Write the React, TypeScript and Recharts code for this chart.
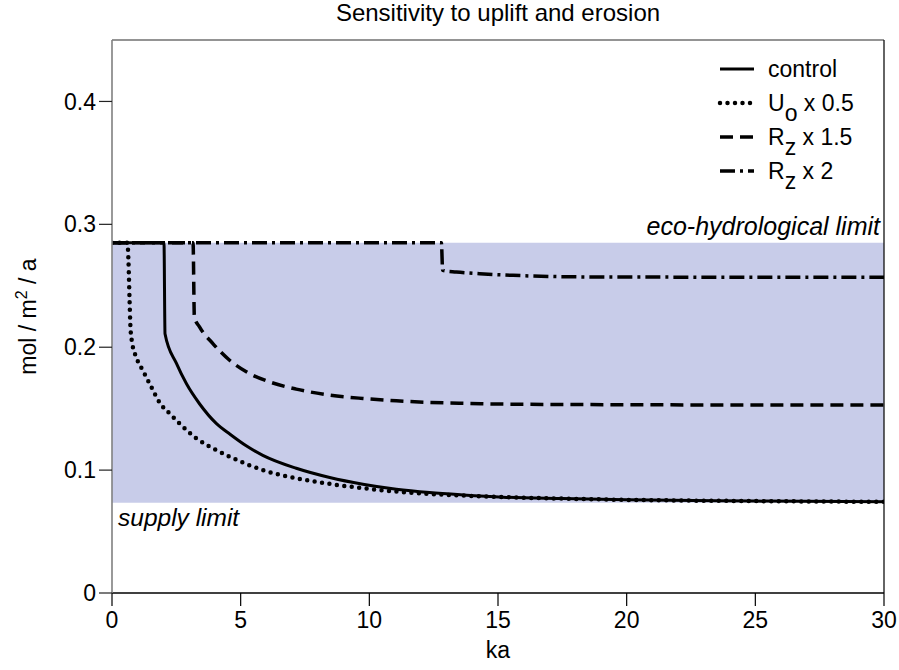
import React from 'react';
import { LineChart, Line, XAxis, YAxis, ReferenceArea, ReferenceLine, Legend } from 'recharts';

const FONT = '"Liberation Sans", Arial, Helvetica, sans-serif';

const TITLE = 'Sensitivity to uplift and erosion';
const X_LABEL = 'ka';
const X_TICKS = [0, 5, 10, 15, 20, 25, 30];
const Y_TICKS = [0, 0.1, 0.2, 0.3, 0.4];
const X_DOMAIN = [0, 30];
const Y_DOMAIN = [0, 0.45];
const ECO_LIMIT = 0.285;
const SUPPLY_LIMIT = 0.0735;
const ECO_TEXT = 'eco-hydrological limit';
const SUPPLY_TEXT = 'supply limit';

// control (solid)
const controlX = [0, 2.02, 2.06, 2.5, 2.9, 3.4, 4.05, 4.6, 5.2, 5.86, 7.16, 8.46, 9.75, 11.05, 12.34, 13.64, 15.2, 17.5, 20, 25, 30];
const controlY = [0.285, 0.285, 0.211, 0.187, 0.17, 0.154, 0.138, 0.129, 0.12, 0.112, 0.1015, 0.094, 0.0885, 0.0844, 0.0817, 0.0798, 0.078, 0.0768, 0.0758, 0.0748, 0.0742];

// Uo x 0.5 (dotted)
const uoX = [0, 0.6, 0.64, 0.68, 0.72, 0.78, 0.94, 1.2, 1.52, 1.85, 2.24, 2.62, 3.27, 4.05, 4.57, 5.86, 7.16, 8.46, 9.75, 11.05, 12.34, 13.64, 15.2, 17.5, 20, 25, 30];
const uoY = [0.285, 0.285, 0.27, 0.24, 0.215, 0.204, 0.192, 0.181, 0.168, 0.155, 0.146, 0.138, 0.126, 0.1164, 0.111, 0.1, 0.0934, 0.0888, 0.0853, 0.0825, 0.0806, 0.0793, 0.078, 0.0768, 0.0758, 0.0748, 0.0742];

// Rz x 1.5 (dashed)
const rz15X = [0, 3.15, 3.2, 3.4, 3.92, 4.57, 5.22, 6.12, 7.16, 8.46, 9.75, 11.05, 12.34, 13.9, 15.2, 20, 25, 30];
const rz15Y = [0.285, 0.285, 0.2246, 0.2165, 0.203, 0.1894, 0.18, 0.1718, 0.1659, 0.161, 0.1583, 0.1564, 0.1551, 0.1543, 0.1537, 0.1532, 0.153, 0.1529];

// Rz x 2 (dash-dot)
const rz2X = [0, 12.8, 12.85, 13.38, 14.29, 15.58, 17.9, 20, 25, 30];
const rz2Y = [0.285, 0.285, 0.2625, 0.2612, 0.2598, 0.2585, 0.2573, 0.2571, 0.257, 0.257];

const toPoints = (xs: number[], ys: number[]) => xs.map((x, i) => ({ x, y: ys[i] }));

const controlData = toPoints(controlX, controlY);
const uoData = toPoints(uoX, uoY);
const rz15Data = toPoints(rz15X, rz15Y);
const rz2Data = toPoints(rz2X, rz2Y);

const DOTTED = '0 7.5';
const DASHED = '13 7';
const DASHDOT = '15 5 3 5';

const FS = 23;

const LegendBox = () => {
  const rows = [
    { dash: undefined, w: 3, cap: 'butt', main: 'control', sub: '', rest: '' },
    { dash: DOTTED, w: 4.5, cap: 'round', main: 'U', sub: 'o', rest: ' x 0.5' },
    { dash: DASHED, w: 3.5, cap: 'butt', main: 'R', sub: 'z', rest: ' x 1.5' },
    { dash: DASHDOT, w: 3.5, cap: 'butt', main: 'R', sub: 'z', rest: ' x 2' },
  ];
  return (
    <svg width={190} height={150} style={{ display: 'block', overflow: 'visible' }}>
      {rows.map((r, i) => {
        const cy = 24 + i * 34;
        return (
          <g key={i}>
            <line x1={20} x2={54} y1={cy} y2={cy} stroke="#000" strokeWidth={r.w}
              strokeDasharray={r.dash} strokeLinecap={r.cap as any} />
            <text x={68} y={cy + 8} fontSize={FS} fontFamily={FONT} fill="#000">
              {r.main}
              {r.sub ? <tspan dy={10}>{r.sub}</tspan> : null}
              {r.rest ? <tspan dy={r.sub ? -10 : 0}>{r.rest}</tspan> : null}
            </text>
          </g>
        );
      })}
    </svg>
  );
};

export default function App() {
  return (
    <div style={{ position: 'absolute', left: 0, top: 0, width: 899, height: 670, background: '#fff' }}>
      <LineChart width={899} height={670} margin={{ top: 40, right: 15, bottom: 27, left: 12 }}
        style={{ fontFamily: FONT }}>
        <ReferenceArea x1={0} x2={30} y1={SUPPLY_LIMIT} y2={ECO_LIMIT} fill="#c8cce9" fillOpacity={1} stroke="none" />
        <XAxis type="number" dataKey="x" domain={X_DOMAIN} ticks={X_TICKS} allowDataOverflow
          height={50} tickSize={13} tickMargin={6}
          axisLine={{ stroke: '#000', strokeWidth: 1.3 }} tickLine={{ stroke: '#000', strokeWidth: 1.2 }}
          tick={{ fill: '#000', fontSize: FS, fontFamily: FONT }}
          label={(p: any) => {
            const vb = p.viewBox || {};
            return <text x={vb.x + vb.width / 2} y={vb.y + 65} textAnchor="middle" fontSize={23} fontFamily={FONT} fill="#000">{X_LABEL}</text>;
          }} />
        <YAxis type="number" dataKey="y" domain={Y_DOMAIN} ticks={Y_TICKS} allowDataOverflow
          width={100} tickSize={13} tickMargin={3}
          axisLine={{ stroke: '#808080', strokeWidth: 1.6 }} tickLine={{ stroke: '#222', strokeWidth: 1.2 }}
          tick={{ fill: '#000', fontSize: FS, fontFamily: FONT }}
          label={(p: any) => {
            const cx = 36;
            const cy = 316.5;
            return (
              <text x={cx} y={cy} transform={`rotate(-90 ${cx} ${cy})`} textAnchor="middle" fontSize={23} fontFamily={FONT} fill="#000">
                mol / m<tspan dy={-9} fontSize={16}>2</tspan><tspan dy={9}> / a</tspan>
              </text>
            );
          }} />
        <ReferenceLine y={0.45} stroke="#707070" strokeWidth={1.5}
          label={(p: any) => {
            const vb = p.viewBox || {};
            return <text x={vb.x + vb.width / 2} y={vb.y - 19} textAnchor="middle" fontSize={24} fontFamily={FONT} fill="#000">{TITLE}</text>;
          }} />
        <ReferenceLine x={30} stroke="#111" strokeWidth={1.3} />
        <ReferenceLine y={ECO_LIMIT} stroke="none"
          label={(p: any) => {
            const vb = p.viewBox || {};
            return <text x={vb.x + vb.width - 4} y={vb.y - 8} textAnchor="end" fontStyle="italic" fontSize={25} fontFamily={FONT} fill="#000">{ECO_TEXT}</text>;
          }} />
        <ReferenceLine y={SUPPLY_LIMIT} stroke="none"
          label={(p: any) => {
            const vb = p.viewBox || {};
            return <text x={vb.x + 6} y={vb.y + 23} textAnchor="start" fontStyle="italic" fontSize={24.5} fontFamily={FONT} fill="#000">{SUPPLY_TEXT}</text>;
          }} />
        <Line data={rz2Data} dataKey="y" type="monotone" stroke="#000" strokeWidth={3.5} strokeDasharray={DASHDOT} dot={false} isAnimationActive={false} />
        <Line data={rz15Data} dataKey="y" type="monotone" stroke="#000" strokeWidth={3.5} strokeDasharray={DASHED} dot={false} isAnimationActive={false} />
        <Line data={controlData} dataKey="y" type="monotone" stroke="#000" strokeWidth={3} dot={false} isAnimationActive={false} />
        <Line data={uoData} dataKey="y" type="monotone" stroke="#000" strokeWidth={4.5} strokeDasharray={DOTTED} strokeLinecap="round" dot={false} isAnimationActive={false} />
        <Legend layout="vertical" align="center" verticalAlign="middle"
          wrapperStyle={{ left: 700, top: 45, width: 190, height: 150 }}
          content={() => <LegendBox />} />
      </LineChart>
    </div>
  );
}
